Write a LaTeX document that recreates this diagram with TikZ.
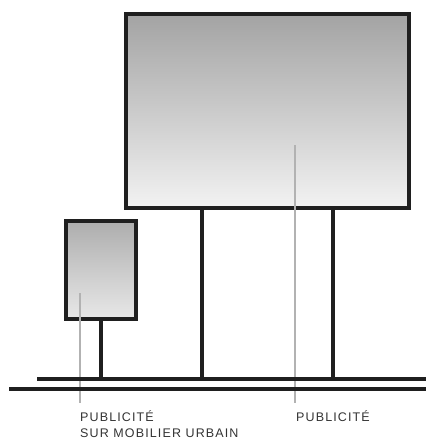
\documentclass[tikz,border=0pt]{standalone}
\usepackage{fontspec}
\setmainfont{Liberation Sans}
\begin{document}
\begin{tikzpicture}[x=1pt,y=-1pt]
	\tikzstyle{panneau} = [rectangle,draw=black!88,line width=3.2pt,shading=axis,top color=black!36,bottom color=black!5,inner sep=0pt]
	\tikzstyle{pied} = [black!88,line width=3.2pt]
	\tikzstyle{repere} = [black!30,line width=1.3pt]
	\tikzstyle{legende} = [inner sep=0pt,anchor=north west,align=left,text=black!80,font=\fontsize{12.5}{16}\selectfont\addfontfeature{LetterSpace=9}]
	\useasboundingbox (0,0) rectangle (426,439);

	\node[panneau,minimum width=283pt,minimum height=194pt] (grand) at (267.5,111) {};
	\node[panneau,minimum width=70pt,minimum height=98pt,top color=black!32,bottom color=black!9] (petit) at (101,270) {};

	\coordinate (solhaut) at (37,379);
	\coordinate (solbas) at (9,389);
	\coordinate (fin) at (426,0);

	\node[legende] (lpetit) at (80,410) {PUBLICITÉ\\SUR MOBILIER URBAIN};
	\node[legende] (lgrand) at (296,410) {PUBLICITÉ};

	% reperes des legendes
	\draw[repere] (80,293) -- ([yshift=7pt]lpetit.north west);
	\draw[repere] (295,145) -- ([xshift=-1pt,yshift=7pt]lgrand.north west);

	% pieds et sol
	\draw[pied] ([xshift=-65.5pt]grand.south) -- ([xshift=-65.5pt]grand.south |- solhaut);
	\draw[pied] ([xshift=65.5pt]grand.south) -- ([xshift=65.5pt]grand.south |- solhaut);
	\draw[pied] (petit.south) -- (petit.south |- solhaut);
	\draw[pied] (solhaut) -- (solhaut -| fin);
	\draw[pied] (solbas) -- (solbas -| fin);
\end{tikzpicture}
\end{document}
